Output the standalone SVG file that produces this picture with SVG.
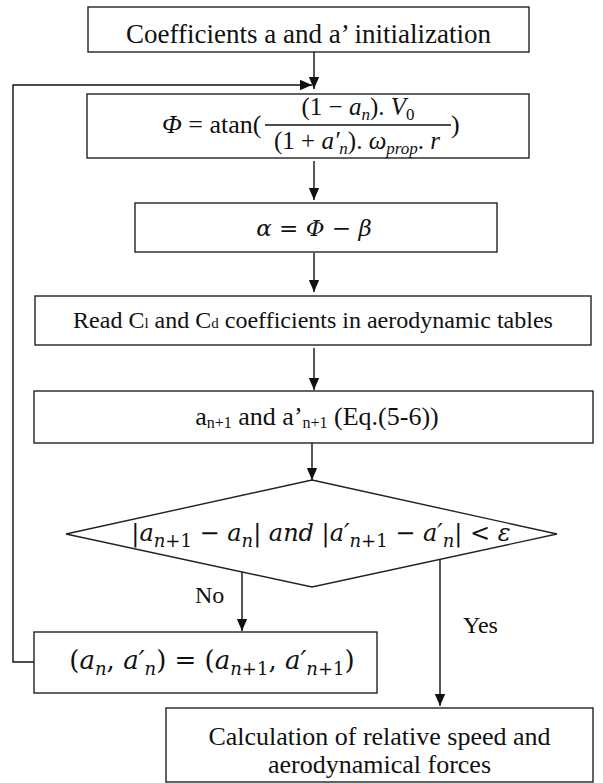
<svg xmlns="http://www.w3.org/2000/svg" width="603" height="783" viewBox="0 0 603 783">
<style>
.box{fill:#fff;stroke:#222;stroke-width:1.4}
.ln{fill:none;stroke:#111;stroke-width:1.4}
.t{font-family:"Liberation Serif","Times New Roman",serif;fill:#111}
.m{font-family:"DejaVu Serif",serif;fill:#111;font-style:italic}
.mt{font-family:"Liberation Serif","Times New Roman",serif;fill:#111;font-style:italic}
.up{font-style:normal}
.tr{font-family:"Liberation Serif","Times New Roman",serif;font-style:normal}
</style>
<defs>
<marker id="ah" markerWidth="12" markerHeight="14" refX="14" refY="6" orient="auto" markerUnits="userSpaceOnUse" viewBox="0 0 14 12">
<path d="M0,0 L14,6 L0,12 Z" fill="#111"/>
</marker>
</defs>
<g id="connectors">
<line class="ln" x1="314" y1="52" x2="314" y2="89" marker-end="url(#ah)"/>
<polyline class="ln" points="34,662 13,662 13,85 312,85" marker-end="url(#ah)"/>
<line class="ln" x1="314" y1="161" x2="314" y2="200" marker-end="url(#ah)"/>
<line class="ln" x1="314" y1="253" x2="314" y2="292" marker-end="url(#ah)"/>
<line class="ln" x1="314" y1="348" x2="314" y2="390" marker-end="url(#ah)"/>
<line class="ln" x1="312" y1="443" x2="312" y2="480" marker-end="url(#ah)"/>
<line class="ln" x1="242" y1="572" x2="242" y2="631" marker-end="url(#ah)"/>
<line class="ln" x1="440" y1="559" x2="440" y2="706" marker-end="url(#ah)"/>
<text class="t" x="195" y="603" font-size="24">No</text>
<text class="t" x="463" y="633" font-size="24">Yes</text>
</g>
<g id="init">
<rect class="box" x="88" y="7" width="441" height="45"/>
<text class="t" x="308.5" y="43" font-size="27" text-anchor="middle">Coefficients a and a’ initialization</text>
</g>
<g id="phi">
<rect class="box" x="87" y="94" width="442" height="64"/>
<text class="mt" x="162" y="133" font-size="26">Φ<tspan class="up"> = atan(</tspan></text>
<line x1="265" y1="125" x2="451" y2="125" stroke="#111" stroke-width="1.6"/>
<text class="mt" x="358" y="115" font-size="25" text-anchor="middle"><tspan class="up">(1 − </tspan>a<tspan dy="5" font-size="17">n</tspan><tspan class="up" dy="-5">). </tspan>V<tspan class="up" dy="5" font-size="17">0</tspan></text>
<text class="mt" x="357" y="149" font-size="25" text-anchor="middle"><tspan class="up">(1 + </tspan>a′<tspan dy="5" font-size="17">n</tspan><tspan class="up" dy="-5">). </tspan>ω<tspan dy="5" font-size="17">prop</tspan><tspan class="up" dy="-5">. </tspan>r</text>
<text class="tr" x="451" y="133" font-size="26" fill="#111">)</text>
</g>
<g id="alpha">
<rect class="box" x="135" y="203" width="362" height="49"/>
<text class="m" x="314" y="236" font-size="23" text-anchor="middle">α<tspan class="up"> = </tspan>Φ<tspan class="up"> − </tspan>β</text>
</g>
<g id="read">
<rect class="box" x="35" y="296" width="556" height="49"/>
<text class="t" x="313" y="328" font-size="24" text-anchor="middle">Read C<tspan font-size="15">l</tspan> and C<tspan font-size="15">d</tspan> coefficients in aerodynamic tables</text>
</g>
<g id="update">
<rect class="box" x="34" y="391" width="559" height="52"/>
<text class="t" x="317" y="425" font-size="26" text-anchor="middle">a<tspan font-size="16" dy="3">n+1</tspan><tspan dy="-3"> and a’</tspan><tspan font-size="16" dy="3">n+1</tspan><tspan dy="-3"> (Eq.(5-6))</tspan></text>
</g>
<g id="check">
<polygon class="box" points="312,480 557,534 312,587 66,534"/>
<text class="m" x="321" y="541" font-size="24" text-anchor="middle"><tspan class="up">|</tspan>a<tspan dy="6" font-size="18">n</tspan><tspan font-size="18" class="up">+1</tspan><tspan class="up" dy="-6"> − </tspan>a<tspan dy="6" font-size="18">n</tspan><tspan class="up" dy="-6">| </tspan>and<tspan class="up"> |</tspan>a′<tspan dy="6" font-size="18">n</tspan><tspan font-size="18" class="up">+1</tspan><tspan class="up" dy="-6"> − </tspan>a′<tspan dy="6" font-size="18">n</tspan><tspan class="up" dy="-6">| &lt; </tspan>ε</text>
</g>
<g id="assign">
<rect class="box" x="34" y="632" width="343" height="61"/>
<text class="m" x="212" y="669" font-size="26" text-anchor="middle"><tspan class="up">(</tspan>a<tspan dy="6" font-size="18">n</tspan><tspan class="up" dy="-6">, </tspan>a′<tspan dy="6" font-size="18">n</tspan><tspan class="up" dy="-6">) = (</tspan>a<tspan dy="6" font-size="18">n</tspan><tspan font-size="18" class="up">+1</tspan><tspan class="up" dy="-6">, </tspan>a′<tspan dy="6" font-size="18">n</tspan><tspan font-size="18" class="up">+1</tspan><tspan class="up" dy="-6">)</tspan></text>
</g>
<g id="result">
<rect class="box" x="166" y="708" width="427" height="74"/>
<text class="t" x="379.5" y="745" font-size="26" text-anchor="middle">Calculation of relative speed and</text>
<text class="t" x="379.5" y="773" font-size="26" text-anchor="middle">aerodynamical forces</text>
</g>
</svg>
